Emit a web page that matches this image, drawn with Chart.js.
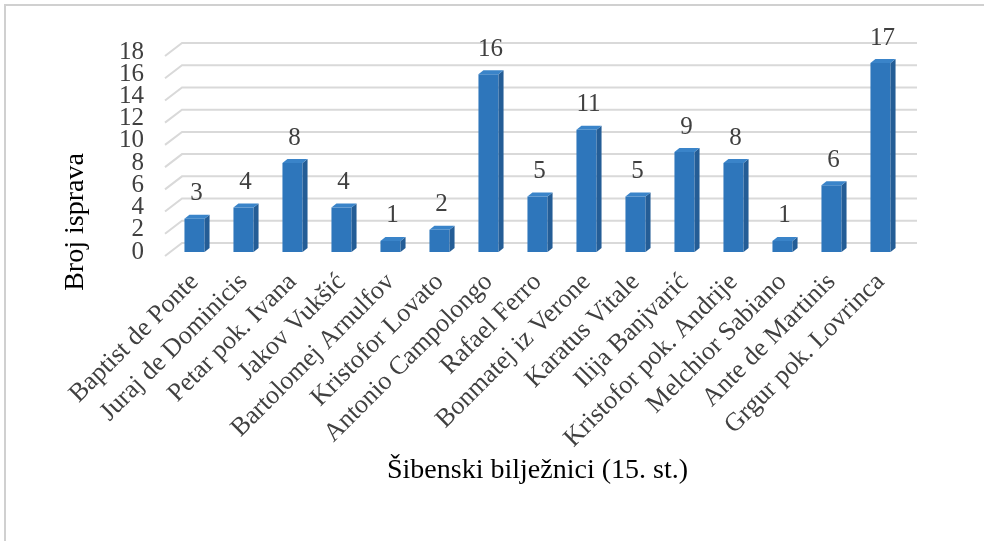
<!DOCTYPE html>
<html>
<head>
<meta charset="utf-8">
<script src="https://cdn.jsdelivr.net/npm/chart.js@4.4.1/dist/chart.umd.min.js"></script>
<style>
  html, body { margin: 0; padding: 0; background: #fff; }
</style>
</head>
<body>
<canvas id="chartIsprave" width="984" height="541"></canvas>
<script>
// podaci
const biljeznici = [
    "Baptist de Ponte", "Juraj de Dominicis", "Petar pok. Ivana", "Jakov Vukšić",
    "Bartolomej Arnulfov", "Kristofor Lovato", "Antonio Campolongo", "Rafael Ferro",
    "Bonmatej iz Verone", "Karatus Vitale", "Ilija Banjvarić", "Kristofor pok. Andrije",
    "Melchior Sabiano", "Ante de Martinis", "Grgur pok. Lovrinca"
];
const isprave = [3, 4, 8, 4, 1, 2, 16, 5, 11, 5, 9, 8, 1, 6, 17];
const yTicks = [0, 2, 4, 6, 8, 10, 12, 14, 16, 18];

const serif = "'Liberation Serif', 'Times New Roman', serif";

// "3D" stupci i mreža kao u Excelu
const bar3d = {
    id: "bar3d",
    beforeDatasetsDraw(chart) {
        const { ctx, chartArea, scales } = chart;
        ctx.save();
        ctx.strokeStyle = "#d9d9d9";
        ctx.lineWidth = 2;
        yTicks.forEach(t => {
            const v = scales.y.getPixelForValue(t);
            ctx.beginPath();
            ctx.moveTo(chartArea.left - 5, v + 4);
            ctx.lineTo(chartArea.left + 12, v - 9);
            ctx.lineTo(chartArea.right + 12, v - 9);
            ctx.stroke();
        });
        ctx.restore();
    },
    afterDatasetsDraw(chart) {
        const { ctx } = chart;
        const dx = 5, dy = -4;
        ctx.save();
        chart.getDatasetMeta(0).data.forEach((bar, i) => {
            const { x, y, base, width } = bar.getProps(["x", "y", "base", "width"], true);
            const l = x - width / 2, r = x + width / 2;
            // bok
            ctx.fillStyle = "#245d96";
            ctx.beginPath();
            ctx.moveTo(r, y);
            ctx.lineTo(r + dx, y + dy);
            ctx.lineTo(r + dx, base + dy);
            ctx.lineTo(r, base);
            ctx.closePath();
            ctx.fill();
            // vrh
            ctx.fillStyle = "#3a84c9";
            ctx.beginPath();
            ctx.moveTo(l, y);
            ctx.lineTo(l + dx, y + dy);
            ctx.lineTo(r + dx, y + dy);
            ctx.lineTo(r, y);
            ctx.closePath();
            ctx.fill();
            // oznaka vrijednosti
            ctx.fillStyle = "#404040";
            ctx.font = "25px " + serif;
            ctx.textAlign = "center";
            ctx.textBaseline = "middle";
            ctx.fillText(String(isprave[i]), x + 2, y - 25);
        });
        ctx.restore();
    },
    afterDraw(chart) {
        const { ctx } = chart;
        ctx.save();
        // okvir
        ctx.strokeStyle = "#d0d0d0";
        ctx.lineWidth = 2;
        ctx.beginPath();
        ctx.moveTo(5, 541);
        ctx.lineTo(5, 5);
        ctx.lineTo(984, 5);
        ctx.stroke();
        // naslov osi y
        ctx.translate(76, 222);
        ctx.rotate(-Math.PI / 2);
        ctx.fillStyle = "#000";
        ctx.font = "28px " + serif;
        ctx.textAlign = "center";
        ctx.textBaseline = "middle";
        ctx.fillText("Broj isprava", 0, 0);
        ctx.restore();
    }
};

new Chart(document.getElementById("chartIsprave"), {
    type: "bar",
    data: {
        labels: biljeznici,
        datasets: [{
            label: "Broj isprava",
            data: isprave,
            backgroundColor: "#2e76bb",
            categoryPercentage: 1,
            barPercentage: 0.41
        }]
    },
    options: {
        responsive: false,
        animation: false,
        devicePixelRatio: 1,
        layout: { padding: { top: 52, right: 79, left: 0, bottom: 0 } },
        plugins: {
            legend: { display: false },
            tooltip: { enabled: false }
        },
        scales: {
            x: {
                grid: { display: false },
                border: { display: false },
                ticks: {
                    autoSkip: false,
                    minRotation: 45,
                    maxRotation: 45,
                    padding: 7,
                    color: "#404040",
                    font: { family: serif, size: 26 }
                },
                title: {
                    display: true,
                    text: "Šibenski bilježnici (15. st.)",
                    color: "#000",
                    font: { family: serif, size: 28 },
                    padding: { top: 0, bottom: 54 }
                },
                afterFit(scale) { scale.height = 289; }
            },
            y: {
                min: 0,
                max: 18,
                grid: { display: false },
                border: { display: false },
                ticks: {
                    stepSize: 2,
                    autoSkip: false,
                    padding: 18,
                    color: "#404040",
                    font: { family: serif, size: 25 }
                },
                afterFit(scale) { scale.width = 170; }
            }
        }
    },
    plugins: [bar3d]
});
</script>
</body>
</html>
